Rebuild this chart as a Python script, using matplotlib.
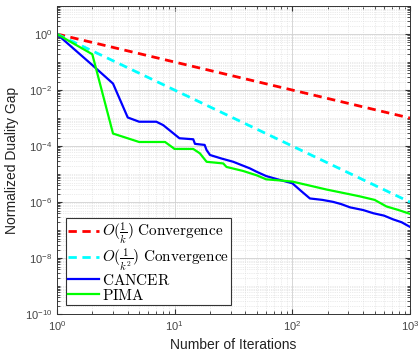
import matplotlib
matplotlib.use("Agg")
import matplotlib.pyplot as plt
from matplotlib.ticker import LogLocator, NullFormatter
import numpy as np

# reference rates
k_ref = [1, 1000]
rate_k = [1.0, 1e-3]
rate_k2 = [1.0, 1e-6]

# CANCER duality gap
cancer_k = [1, 2, 3, 4, 5, 7, 8, 11, 14.4, 14.9, 18, 18.7, 20, 25, 31.5, 36, 43.6, 50,
            60, 75, 100, 120, 141, 180, 222, 260, 309, 400, 488, 600, 722, 850, 1000]
cancer_gap = [1.0, 0.078, 0.017, 1.05e-3, 7.4e-4, 7.4e-4, 5.6e-4, 1.9e-4, 1.75e-4, 1.2e-4,
              1.1e-4, 7.2e-5, 4.8e-5, 3.6e-5, 2.75e-5, 2.2e-5, 1.6e-5, 1.2e-5,
              8.5e-6, 6.5e-6, 4.7e-6, 2.4e-6, 1.35e-6, 1.2e-6, 1.02e-6, 8.5e-7, 6.5e-7,
              5.2e-7, 4.0e-7, 3.3e-7, 2.4e-7, 1.9e-7, 1.3e-7]

# PIMA duality gap
pima_k = [1, 2, 3, 5, 8.3, 10, 14.4, 16.4, 18.7, 25.9, 27.6, 38, 50, 60, 80, 100, 140,
          196, 260, 375, 500, 630, 800, 1000]
pima_gap = [1.0, 0.19, 2.8e-4, 1.4e-4, 1.4e-4, 7.9e-5, 7.9e-5, 5.5e-5, 2.75e-5, 2.4e-5,
            1.8e-5, 1.3e-5, 9.0e-6, 6.5e-6, 5.9e-6, 5.4e-6, 3.9e-6, 2.8e-6, 2.2e-6,
            1.6e-6, 1.2e-6, 7.0e-7, 5.2e-7, 3.8e-7]

plt.rcParams['font.family'] = ['Liberation Sans', 'DejaVu Sans']
plt.rcParams['mathtext.fontset'] = 'cm'

fig = plt.figure(figsize=(4.18, 3.53), dpi=100)
ax = fig.add_axes([0.136, 0.110, 0.845, 0.873])

ax.loglog(k_ref, rate_k, '--', color='#ff0000', lw=2, dashes=(3, 2),
          label=r'$O(\frac{1}{k})\ \mathrm{Convergence}$')
ax.loglog(k_ref, rate_k2, '--', color='#00ffff', lw=2, dashes=(3, 2),
          label=r'$O(\frac{1}{k^2})\ \mathrm{Convergence}$')
ax.loglog(cancer_k, cancer_gap, color='#0000ff', lw=1.6, label=r'$\mathrm{CANCER}$')
ax.loglog(pima_k, pima_gap, color='#00ff00', lw=1.6, label=r'$\mathrm{PIMA}$')

ax.set_xlim(1, 1000)
ax.set_ylim(1e-10, 10)
ax.set_yticks([1e0, 1e-2, 1e-4, 1e-6, 1e-8, 1e-10])
ax.yaxis.set_minor_locator(LogLocator(base=10, subs=np.arange(1, 10), numticks=200))
ax.yaxis.set_minor_formatter(NullFormatter())

ax.grid(True, which='major', color='#d0d0d0', lw=0.6, ls='-')
ax.grid(True, which='minor', color='#d8d8d8', lw=0.5, ls=':')
ax.tick_params(which='both', direction='in', top=True, right=True,
               labelsize=8, labelcolor='#444444', color='#333333')
ax.tick_params(which='minor', length=2)
for s in ax.spines.values():
    s.set_color('#333333')
    s.set_linewidth(0.7)

ax.set_xlabel('Number of Iterations', fontsize=10, color='#222222')
ax.set_ylabel('Normalized Duality Gap', fontsize=10, color='#222222')

leg = ax.legend(loc='lower left', fontsize=11, fancybox=False, edgecolor='#333333',
                framealpha=1, borderaxespad=0.6, handlelength=2.0, handletextpad=0.2,
                labelspacing=0.0, borderpad=0.15)
leg.get_frame().set_linewidth(0.8)

fig.savefig('out.png', dpi=100)
